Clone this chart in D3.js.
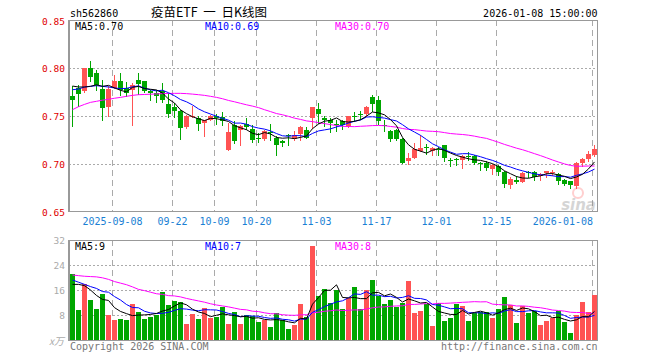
<!DOCTYPE html>
<html lang="zh">
<head>
<meta charset="UTF-8">
<title>疫苗ETF 日K线图</title>
<script src="https://d3js.org/d3.v7.min.js"></script>
<style>
  body { margin: 0; background: #fff; }
  svg { display: block; }
  text { font-family: "DejaVu Sans Mono", monospace; font-size: 10px; }
</style>
</head>
<body>
<svg width="660" height="360"></svg>
<script>
// ---- data ----
const symbol = "sh562860";
const title = "疫苗ETF  一  日K线图";
const stamp = "2026-01-08 15:00:00";

const tickIdx = [7, 17, 24, 31, 41, 51, 61, 71, 87];
const tickLabels = ["2025-09-08", "09-22", "10-09", "10-20", "11-03", "11-17", "12-01", "12-15", "2026-01-08"];

const priceTicks = [0.85, 0.80, 0.75, 0.70, 0.65];
const volTicks = [32, 24, 16, 8];

const open = [
  0.7712, 0.7792, 0.7757, 0.8000, 0.7948, 0.7785, 0.7601, 0.7799, 0.7868, 0.7792,
  0.7774, 0.7878, 0.7861, 0.7757, 0.7740, 0.7757, 0.7628, 0.7590, 0.7556, 0.7385,
  0.7490, 0.7479, 0.7427, 0.7462, 0.7503, 0.7490, 0.7149, 0.7403, 0.7347, 0.7417,
  0.7368, 0.7274, 0.7264, 0.7333, 0.7271, 0.7236, 0.7299, 0.7264, 0.7306, 0.7358,
  0.7472, 0.7576, 0.7479, 0.7462, 0.7417, 0.7444, 0.7392, 0.7503, 0.7521, 0.7514,
  0.7694, 0.7670, 0.7403, 0.7347, 0.7358, 0.7264, 0.7028, 0.7069, 0.7139, 0.7174,
  0.7139, 0.7160, 0.7194, 0.7042, 0.7049, 0.7035, 0.7080, 0.7080, 0.7010, 0.7010,
  0.6944, 0.6976, 0.6913, 0.6785, 0.6837, 0.6819, 0.6917, 0.6917, 0.6872, 0.6903,
  0.6906, 0.6896, 0.6837, 0.6819, 0.6767, 0.7010, 0.7056, 0.7097
];
const high = [
  0.7809, 0.7826, 0.8000, 0.8069, 0.7983, 0.7878, 0.7809, 0.7931, 0.7948, 0.7854,
  0.7844, 0.7948, 0.7861, 0.7774, 0.7774, 0.7844, 0.7740, 0.7635, 0.7566, 0.7514,
  0.7600, 0.7497, 0.7462, 0.7514, 0.7521, 0.7542, 0.7427, 0.7444, 0.7410, 0.7479,
  0.7410, 0.7323, 0.7358, 0.7417, 0.7288, 0.7253, 0.7312, 0.7340, 0.7392, 0.7382,
  0.7597, 0.7635, 0.7497, 0.7479, 0.7462, 0.7455, 0.7503, 0.7542, 0.7556, 0.7600,
  0.7722, 0.7712, 0.7462, 0.7358, 0.7368, 0.7271, 0.7115, 0.7219, 0.7299, 0.7208,
  0.7174, 0.7174, 0.7201, 0.7062, 0.7062, 0.7097, 0.7125, 0.7097, 0.7021, 0.7035,
  0.7000, 0.6993, 0.6924, 0.6861, 0.6872, 0.6917, 0.6931, 0.6924, 0.6906, 0.6931,
  0.6941, 0.6906, 0.6844, 0.6826, 0.7021, 0.7062, 0.7139, 0.7194
];
const low = [
  0.7399, 0.7601, 0.7747, 0.7861, 0.7774, 0.7462, 0.7497, 0.7792, 0.7722, 0.7705,
  0.7410, 0.7729, 0.7750, 0.7663, 0.7642, 0.7642, 0.7490, 0.7486, 0.7260, 0.7380,
  0.7486, 0.7358, 0.7288, 0.7460, 0.7420, 0.7410, 0.7142, 0.7219, 0.7201, 0.7368,
  0.7226, 0.7229, 0.7253, 0.7253, 0.7097, 0.7184, 0.7201, 0.7253, 0.7253, 0.7271,
  0.7375, 0.7427, 0.7392, 0.7333, 0.7340, 0.7368, 0.7385, 0.7444, 0.7472, 0.7503,
  0.7549, 0.7417, 0.7340, 0.7243, 0.7253, 0.7010, 0.7000, 0.7062, 0.7132, 0.7104,
  0.7097, 0.7097, 0.7035, 0.6976, 0.6986, 0.6958, 0.7045, 0.7000, 0.6941, 0.6941,
  0.6896, 0.6882, 0.6757, 0.6750, 0.6802, 0.6812, 0.6868, 0.6837, 0.6837, 0.6861,
  0.6882, 0.6792, 0.6778, 0.6750, 0.6750, 0.6976, 0.7035, 0.7080
];
const close = [
  0.7670, 0.7733, 0.8000, 0.7903, 0.7819, 0.7590, 0.7785, 0.7868, 0.7774, 0.7740,
  0.7826, 0.7833, 0.7757, 0.7736, 0.7705, 0.7663, 0.7524, 0.7549, 0.7382, 0.7503,
  0.7503, 0.7417, 0.7455, 0.7503, 0.7479, 0.7444, 0.7333, 0.7236, 0.7392, 0.7382,
  0.7253, 0.7264, 0.7347, 0.7319, 0.7201, 0.7212, 0.7285, 0.7306, 0.7382, 0.7278,
  0.7590, 0.7524, 0.7455, 0.7427, 0.7403, 0.7403, 0.7497, 0.7493, 0.7510, 0.7590,
  0.7618, 0.7451, 0.7392, 0.7264, 0.7264, 0.7017, 0.7062, 0.7160, 0.7167, 0.7160,
  0.7167, 0.7153, 0.7062, 0.7028, 0.7035, 0.7080, 0.7066, 0.7007, 0.7000, 0.6958,
  0.6986, 0.6917, 0.6785, 0.6847, 0.6812, 0.6910, 0.6903, 0.6861, 0.6896, 0.6924,
  0.6917, 0.6826, 0.6795, 0.6778, 0.7010, 0.7056, 0.7104, 0.7160
];
// volume, 万手
const volume = [
  21.1, 9.6, 17.9, 12.8, 9.9, 14.7, 8.0, 6.4, 6.7, 6.4,
  11.5, 8.9, 6.7, 7.4, 8.0, 15.4, 11.2, 12.5, 12.2, 5.1,
  8.3, 6.7, 10.2, 7.0, 7.4, 10.6, 5.1, 9.0, 5.1, 8.0,
  7.7, 5.8, 6.4, 4.2, 8.6, 6.4, 3.5, 4.8, 11.5, 7.4,
  30.1, 14.1, 16.3, 11.8, 16.0, 9.9, 13.4, 17.0, 9.9, 16.0,
  19.2, 14.1, 11.5, 12.8, 10.6, 11.8, 18.9, 8.6, 9.3, 11.5,
  4.5, 11.8, 6.1, 7.0, 11.5, 10.9, 6.1, 8.6, 9.0, 9.0,
  7.0, 9.9, 13.8, 11.2, 5.4, 10.9, 8.6, 9.3, 4.8, 6.1,
  7.0, 9.3, 5.8, 2.2, 8.0, 12.2, 9.0, 14.4
];

// moving-average values at the left edge (window starts before the first visible day)
const ma5Head = [0.7812, 0.7802, 0.7802, 0.7809];
const ma10Head = [0.7774, 0.7781, 0.7802, 0.7809, 0.7816, 0.7809, 0.7802, 0.7792, 0.7785];
const ma30Head = [0.7566, 0.7597, 0.7621, 0.7642, 0.7653, 0.7665, 0.7674, 0.7685, 0.7694, 0.7705,
  0.7715, 0.7722, 0.7724, 0.7727, 0.7730, 0.7733, 0.7735, 0.7736, 0.7736, 0.7733,
  0.7728, 0.7722, 0.7715, 0.7705, 0.7694, 0.7680, 0.7662, 0.7648, 0.7632];
const volMa5Head = [17.8, 17.8, 17.4, 16.0];
const volMa10Head = [19.2, 18.5, 17.8, 17.1, 16.5, 15.5, 15.3, 13.9, 12.8];
const volMa30Head = [20.8, 20.6, 20.4, 20.3, 20.2, 19.9, 19.4, 18.7, 18.2, 17.7,
  17.0, 16.2, 15.8, 15.3, 14.8, 14.6, 14.2, 14.1, 13.8, 13.3,
  12.9, 12.5, 12.1, 11.6, 11.2, 10.9, 10.6, 10.2, 9.8];

// ---- helpers ----
function movingAvg(vals, n, head) {
  return vals.map((v, i) => i < n - 1 ? head[i] : d3.mean(vals.slice(i - n + 1, i + 1)));
}

const RED = "#ff5353", GREEN = "#00a600";
const MA_COLORS = ["#000000", "#0000ff", "#ff00ff"];
const GRID = "#aaaaaa", FRAME = "#999999";

const svg = d3.select("svg");
const n = close.length;

const x = d3.scaleLinear().domain([0, n]).range([70, 70 + 6 * n]);
const y = d3.scaleLinear().domain([0.65, 0.85]).range([212, 20]);
const yv = d3.scaleLinear().domain([0, 32]).range([340, 240]);

const left = 69, right = 597.5;
const isUp = i => close[i] >= open[i];

// ---- header ----
svg.append("text").attr("x", 70).attr("y", 16.5).text(symbol);
svg.append("text").attr("x", 209).attr("y", 16.5).attr("text-anchor", "middle")
   .style("font-family", "'Noto Sans CJK SC', sans-serif").style("font-size", "12.5px")
   .style("white-space", "pre")
   .text(title);
svg.append("text").attr("x", right).attr("y", 16.5).attr("text-anchor", "end").text(stamp);

// ---- grids ----
function panelGrid(top, bottom, yScale, hTicks) {
  const g = svg.append("g");
  g.selectAll("line.v").data(tickIdx).enter().append("line")
    .attr("x1", d => x(d) + 0.5).attr("x2", d => x(d) + 0.5)
    .attr("y1", top).attr("y2", bottom)
    .attr("stroke", GRID).attr("stroke-dasharray", "6,4");
  g.selectAll("line.h").data(hTicks).enter().append("line")
    .attr("x1", left).attr("x2", right)
    .attr("y1", d => Math.round(yScale(d)) + 0.5).attr("y2", d => Math.round(yScale(d)) + 0.5)
    .attr("stroke", GRID).attr("stroke-dasharray", "2,2");
  // frame
  g.append("line").attr("x1", left).attr("x2", right).attr("y1", top + 0.5).attr("y2", top + 0.5).attr("stroke", FRAME);
  g.append("line").attr("x1", right).attr("x2", right).attr("y1", top).attr("y2", bottom).attr("stroke", FRAME);
  g.append("line").attr("x1", left).attr("x2", right).attr("y1", bottom - 0.5).attr("y2", bottom - 0.5).attr("stroke", FRAME);
  g.append("line").attr("x1", left).attr("x2", left).attr("y1", top).attr("y2", bottom).attr("stroke", FRAME).attr("stroke-width", 2);
}
panelGrid(20, 212, y, [0.80, 0.75, 0.70]);
panelGrid(240, 341, yv, [24, 16, 8]);

// ---- axis labels ----
svg.selectAll("text.py").data(priceTicks).enter().append("text")
   .attr("x", 65).attr("y", d => Math.max(y(d) + 3.5, 25))
   .attr("text-anchor", "end").attr("fill", "#e00000").style("font-size", "9.5px")
   .text(d => d3.format(".2f")(d));

svg.selectAll("text.vy").data(volTicks).enter().append("text")
   .attr("x", 65).attr("y", d => yv(d) + 4)
   .attr("text-anchor", "end").attr("fill", "#aaaaaa").style("font-size", "9.5px")
   .text(d => d);
svg.append("text").attr("x", 64).attr("y", 345).attr("text-anchor", "end")
   .attr("fill", "#aaaaaa").style("font-style", "italic")
   .style("font-family", "'Noto Sans CJK SC', sans-serif").style("font-size", "10px")
   .text("x万");

svg.selectAll("text.xl").data(tickIdx).enter().append("text")
   .attr("x", (d, k) => k === tickIdx.length - 1 ? x(d) + 1 : x(d) + 0.5)
   .attr("y", 225)
   .attr("text-anchor", (d, k) => k === tickIdx.length - 1 ? "end" : "middle")
   .attr("fill", "#1a7fd4")
   .text((d, k) => tickLabels[k]);

// ---- sina watermark ----
const wm = svg.append("g").attr("opacity", 0.35);
wm.append("circle").attr("cx", 578).attr("cy", 193).attr("r", 5).attr("fill", "none").attr("stroke", "#ff7777").attr("stroke-width", 2);
wm.append("text").attr("x", 596).attr("y", 210).attr("text-anchor", "end")
  .style("font-family", "'DejaVu Sans', sans-serif").style("font-size", "15px")
  .style("font-weight", "bold").style("font-style", "italic").attr("fill", "#888").text("sina");

// ---- candles ----
const cg = svg.append("g");
cg.selectAll("line.wick").data(d3.range(n)).enter().append("line")
  .attr("x1", i => x(i) + 2.5).attr("x2", i => x(i) + 2.5)
  .attr("y1", i => Math.round(y(high[i]))).attr("y2", i => Math.round(y(low[i])) + 1)
  .attr("stroke", i => isUp(i) ? RED : GREEN);
cg.selectAll("rect").data(d3.range(n)).enter().append("rect")
  .attr("x", i => x(i)).attr("width", 5)
  .attr("y", i => Math.round(y(Math.max(open[i], close[i]))))
  .attr("height", i => Math.max(1, Math.round(Math.abs(y(open[i]) - y(close[i])))))
  .attr("fill", i => isUp(i) ? RED : GREEN);

// ---- volume bars ----
svg.append("g").selectAll("rect").data(volume).enter().append("rect")
  .attr("x", (d, i) => x(i)).attr("width", 5)
  .attr("y", d => Math.round(yv(d)))
  .attr("height", d => 340 - Math.round(yv(d)))
  .attr("fill", (d, i) => isUp(i) ? RED : GREEN);

// ---- moving averages ----
const pMA = [movingAvg(close, 5, ma5Head), movingAvg(close, 10, ma10Head), movingAvg(close, 30, ma30Head)];
const vMA = [movingAvg(volume, 5, volMa5Head), movingAvg(volume, 10, volMa10Head), movingAvg(volume, 30, volMa30Head)];

const pLine = d3.line().x((d, i) => x(i) + 2.5).y(d => y(d));
const vLine = d3.line().x((d, i) => x(i) + 2.5).y(d => yv(d));

[2, 1, 0].forEach(k => {
  svg.append("path").attr("d", pLine(pMA[k])).attr("fill", "none").attr("stroke", MA_COLORS[k]);
  svg.append("path").attr("d", vLine(vMA[k])).attr("fill", "none").attr("stroke", MA_COLORS[k]);
});

// ---- MA legends ----
const names = ["MA5", "MA10", "MA30"];
const legX = [75, 205, 335];
names.forEach((nm, k) => {
  svg.append("text").attr("x", legX[k]).attr("y", 29.5).attr("fill", MA_COLORS[k])
     .text(nm + ":" + d3.format(".2f")(pMA[k][n - 1]));
  svg.append("text").attr("x", legX[k]).attr("y", 250).attr("fill", MA_COLORS[k])
     .text(nm + ":" + Math.floor(vMA[k][n - 1]));
});

// ---- footer ----
svg.append("text").attr("x", 70).attr("y", 349.5).attr("fill", "#777").text("Copyright 2026 SINA.COM");
svg.append("text").attr("x", right).attr("y", 349.5).attr("text-anchor", "end").attr("fill", "#777")
   .text("http://finance.sina.com.cn");
</script>
</body>
</html>
